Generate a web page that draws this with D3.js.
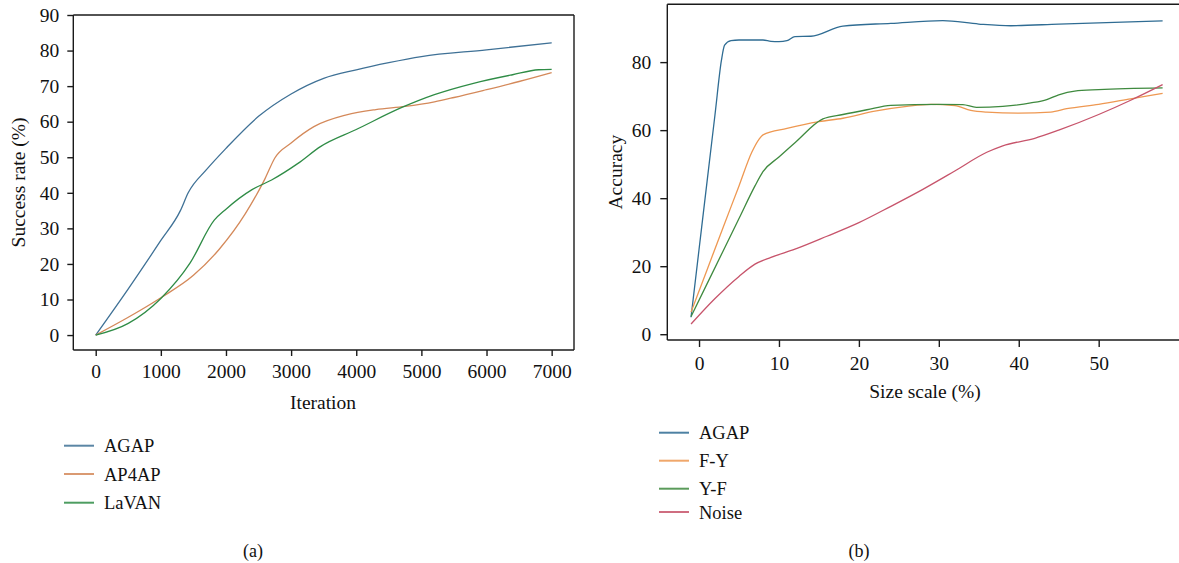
<!DOCTYPE html>
<html><head><meta charset="utf-8">
<script src="https://cdn.jsdelivr.net/npm/d3@7"></script>
<style>body{margin:0;background:#fff}svg{display:block}text{font-family:"Liberation Serif","Times New Roman",serif;fill:#111}</style>
</head><body><svg id="c" width="1179" height="563"></svg>
<script>
// ---- Panel (a) data ----
const iterTicks = [0,1000,2000,3000,4000,5000,6000,7000];
const rateTicks = [0,10,20,30,40,50,60,70,80,90];
const agapA = [[0,0],[500,13],[1000,26.6],[1300,35],[1420,40],[1700,46.5],[2000,52.5],[2500,61.5],[3000,67.8],[3500,72.2],[4000,74.6],[4500,76.6],[5000,78.3],[6000,80.2],[7000,82.2]];
const ap4apA = [[0,0],[500,5],[1000,10.5],[1500,16.8],[1900,24.2],[2300,34.2],[2600,44],[2750,49.8],[3000,54],[3350,58.6],[3850,61.9],[4300,63.4],[4750,64.3],[5200,65.6],[5500,66.8],[6000,69],[6500,71.3],[7000,73.8]];
const lavanA = [[0,0],[500,3.3],[1000,10.3],[1450,20.3],[1820,32.3],[2000,35.4],[2400,40.9],[2700,43.6],[3100,48.2],[3450,53],[4000,57.8],[4700,64],[5200,67.6],[5800,70.8],[6400,73.2],[6800,74.6],[7000,74.7]];
const seriesA = [
  {name:"AGAP", color:"#3f7196", data:agapA},
  {name:"AP4AP", color:"#d4895a", data:ap4apA},
  {name:"LaVAN", color:"#2f8c46", data:lavanA}
];
// ---- Panel (b) data ----
const sizeTicks = [0,10,20,30,40,50];
const accTicks = [0,20,40,60,80];
const agapB = [[-1,5],[0,24.9],[1,44.8],[2,64.6],[2.8,80.5],[3.2,85],[4,86.3],[5,86.5],[8,86.5],[9,86.1],[10,86],[11,86.3],[12,87.5],[14,87.6],[18,90.6],[24,91.4],[30.5,92.2],[35,91.2],[39,90.7],[45,91.2],[58,92.1]];
const fyB = [[-1,6.5],[1,18.9],[3,31.3],[5,43.6],[6.6,53.5],[7.5,57.3],[8,58.6],[11,60.5],[15,62.5],[18,63.5],[22,65.6],[26,67],[29,67.6],[32,67.2],[34,65.8],[36,65.3],[40,65],[44,65.3],[46,66.3],[50,67.6],[54,69.2],[58,70.8]];
const yfB = [[-1,5.2],[1,14.8],[3,24.4],[5,34],[7,43.6],[8,47.8],[10,52.1],[12,56.3],[15.5,63.3],[18,64.6],[21,66],[24,67.3],[30,67.6],[33,67.5],[34.7,66.7],[38,67],[41.5,68],[43.5,69],[45,70.4],[47,71.5],[50,71.9],[58,72.4]];
const noiseB = [[-1,3],[2,10.5],[5,17],[7,20.6],[9,22.6],[12,25],[16,28.8],[20,32.8],[24,37.6],[28,42.6],[32,48],[36,53.5],[38,55.4],[42,57.6],[45,60],[50,64.6],[54,68.8],[58,73.4]];
const seriesB = [
  {name:"AGAP", color:"#2f6c93", data:agapB},
  {name:"F-Y", color:"#ee9852", data:fyB},
  {name:"Y-F", color:"#3f8a3f", data:yfB},
  {name:"Noise", color:"#c7546b", data:noiseB}
];

const svg = d3.select("#c");
const FS = 19.5;

function panel(opt){
  const g = svg.append("g");
  const x = d3.scaleLinear().domain(opt.xd).range(opt.xr);
  const y = d3.scaleLinear().domain(opt.yd).range(opt.yr);
  const [x0,x1] = opt.xr, [y0,y1] = opt.yr;
  const line = d3.line().x(d=>x(d[0])).y(d=>y(d[1])).curve(d3.curveMonotoneX);
  g.selectAll(".s").data(opt.series).join("path")
    .attr("fill","none").attr("stroke",d=>d.color).attr("stroke-width",1.3)
    .attr("d",d=>line(d.data));
  const fr = g.append("g").attr("stroke","#1a1a1a").attr("stroke-width",1.4).attr("fill","none");
  fr.append("line").attr("x1",x0).attr("x2",x0).attr("y1",y0).attr("y2",y1);
  fr.append("line").attr("x1",x0).attr("x2",x1).attr("y1",y0).attr("y2",y0);
  fr.append("line").attr("x1",x0).attr("x2",x1).attr("y1",y1).attr("y2",y1);
  if(opt.right) fr.append("line").attr("x1",x1).attr("x2",x1).attr("y1",y0).attr("y2",y1);
  const ax = g.append("g").attr("transform",`translate(0,${y0})`)
    .call(d3.axisBottom(x).tickValues(opt.xt).tickSize(opt.tl).tickPadding(opt.xpad).tickFormat(d3.format("d")));
  const ay = g.append("g").attr("transform",`translate(${x0},0)`)
    .call(d3.axisLeft(y).tickValues(opt.yt).tickSize(opt.tl).tickPadding(opt.ypad).tickFormat(d3.format("d")));
  [ax,ay].forEach(a=>{
    a.select(".domain").remove();
    a.selectAll(".tick line").attr("stroke","#1a1a1a").attr("stroke-width",1.4);
    a.selectAll(".tick text").style("font-family",'"Liberation Serif",serif').style("font-size",FS+"px").attr("fill","#111");
  });
  g.append("text").attr("x",opt.xlx).attr("y",opt.xly).attr("text-anchor","middle").style("font-size",FS+"px").text(opt.xlabel);
  g.append("text").attr("transform",`translate(${opt.ylx},${(y0+y1)/2}) rotate(-90)`).attr("text-anchor","middle").style("font-size",FS+"px").text(opt.ylabel);
  const lg = g.append("g");
  opt.series.forEach((s,i)=>{
    const ly = opt.ly[i];
    lg.append("line").attr("x1",opt.lx).attr("x2",opt.lx+30).attr("y1",ly).attr("y2",ly).attr("stroke",s.color).attr("stroke-width",2).attr("opacity",0.85);
    lg.append("text").attr("x",opt.lx+40).attr("y",ly+6.5).style("font-size","18.5px").text(s.name);
  });
  g.append("text").attr("x",opt.capx).attr("y",557).attr("text-anchor","middle").style("font-size","18px").text(opt.cap);
}

panel({xd:[-344,7343], xr:[73.3,574], yd:[-4.2,90], yr:[350,15], xt:iterTicks, yt:rateTicks, right:true,
  tl:6, xpad:8, ypad:8, series:seriesA, xlabel:"Iteration", xlx:323, xly:409, ylabel:"Success rate (%)", ylx:25,
  lx:64, ly:[445.7,474,502.7], cap:"(a)", capx:253});
panel({xd:[-3.97,62], xr:[667.3,1194.6], yd:[-1.7,97], yr:[340,4.3], xt:sizeTicks, yt:accTicks, right:false,
  tl:7, xpad:9, ypad:9, series:seriesB, xlabel:"Size scale (%)", xlx:925, xly:398, ylabel:"Accuracy", ylx:622,
  lx:659, ly:[432.7,460.7,488.7,512], cap:"(b)", capx:859});
</script></body></html>
